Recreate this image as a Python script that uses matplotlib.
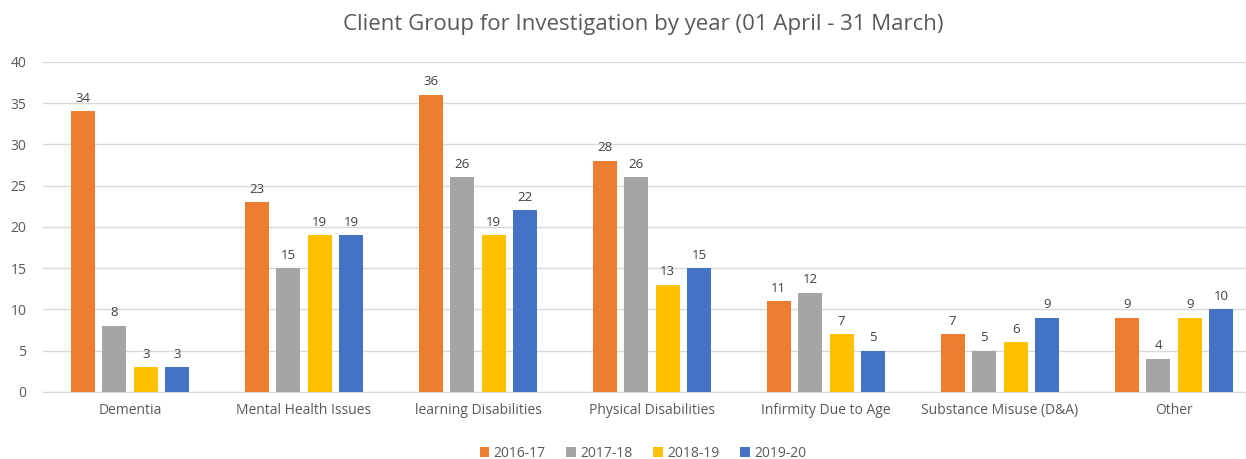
import numpy as np
import matplotlib
matplotlib.use('Agg')
import matplotlib.pyplot as plt

categories = ['Dementia', 'Mental Health Issues', 'learning Disabilities', 'Physical Disabilities',
              'Infirmity Due to Age', 'Substance Misuse (D&A)', 'Other']
years = ['2016-17', '2017-18', '2018-19', '2019-20']
v_2016 = [34, 23, 36, 28, 11, 7, 9]
v_2017 = [8, 15, 26, 26, 12, 5, 4]
v_2018 = [3, 19, 19, 13, 7, 6, 9]
v_2019 = [3, 19, 22, 15, 5, 9, 10]
series = [v_2016, v_2017, v_2018, v_2019]
colors = ['#ED7D31', '#A5A5A5', '#FFC000', '#4472C4']

plt.rcParams['font.family'] = ['Open Sans', 'DejaVu Sans']
txt = '#595959'

fig = plt.figure(figsize=(12.46, 4.59), dpi=100)
# the original chart is cropped on the right, so the axes run past the figure edge
ax = fig.add_axes([0.0345, 0.146, 0.9775, 0.719])

x = np.arange(len(categories))
step = 0.181
width = 0.14
for i, (vals, col, lab) in enumerate(zip(series, colors, years)):
    pos = x + (i - 1.5) * step
    ax.bar(pos, vals, width, color=col, label=lab, zorder=3)
    for p, v in zip(pos, vals):
        ax.text(p, v + 0.8, str(v), ha='center', va='bottom', fontsize=9.5, color='#404040')

ax.set_xlim(-0.5, len(categories) - 0.5)
ax.set_ylim(0, 40)
ax.set_yticks(range(0, 41, 5))
ax.set_xticks(x)
ax.set_xticklabels(categories)
ax.tick_params(axis='both', length=0, labelsize=10, colors=txt)
ax.tick_params(axis='x', pad=8)
ax.tick_params(axis='y', pad=12)
ax.grid(axis='y', color='#D9D9D9', linewidth=1, zorder=0)
for s in ['top', 'right', 'left']:
    ax.spines[s].set_visible(False)
ax.spines['bottom'].set_color('#D9D9D9')

fig.text(0.516, 0.947, 'Client Group for Investigation by year (01 April - 31 March)',
         ha='center', va='center', fontsize=16, color=txt)
fig.legend(loc='lower center', ncol=4, frameon=False, fontsize=10, handlelength=0.7,
           handleheight=0.7, handletextpad=0.3, columnspacing=1.5, bbox_to_anchor=(0.516, -0.032),
           labelcolor=txt)

fig.savefig('out.png', dpi=100)
